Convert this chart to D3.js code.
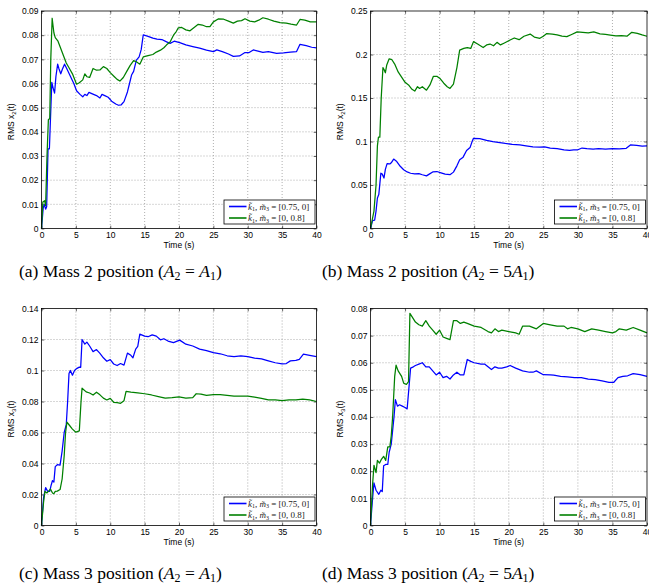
<!DOCTYPE html>
<html><head><meta charset="utf-8">
<script src="https://cdn.jsdelivr.net/npm/d3@7"></script>
<style>body{margin:0;background:#fff}svg{display:block}</style>
</head><body>
<svg id="c" width="649" height="586"></svg>
<script>
// ---------- DATA ----------
const xTicks = [0,5,10,15,20,25,30,35,40];
const xTickLabels = ["0","5","10","15","20","25","30","35","40"];

const yTicksA = [0,0.01,0.02,0.03,0.04,0.05,0.06,0.07,0.08,0.09];
const yLabelsA = ["0","0.01","0.02","0.03","0.04","0.05","0.06","0.07","0.08","0.09"];
const yTicksB = [0,0.05,0.1,0.15,0.2,0.25];
const yLabelsB = ["0","0.05","0.1","0.15","0.2","0.25"];
const yTicksC = [0,0.02,0.04,0.06,0.08,0.1,0.12,0.14];
const yLabelsC = ["0","0.02","0.04","0.06","0.08","0.1","0.12","0.14"];
const yTicksD = [0,0.01,0.02,0.03,0.04,0.05,0.06,0.07,0.08];
const yLabelsD = ["0","0.01","0.02","0.03","0.04","0.05","0.06","0.07","0.08"];

// (a) Mass 2, A2 = A1
const blueA = [[0,0],[0.25,0.0085],[0.4,0.01],[0.6,0.008],[0.75,0.009],[0.95,0.033],[1.15,0.033],[1.3,0.045],[1.5,0.0605],[1.7,0.058],[1.9,0.056],[2.1,0.063],[2.35,0.068],[2.55,0.066],[2.8,0.064],[3.05,0.066],[3.35,0.068],[3.7,0.066],[4.2,0.063],[4.7,0.06],[5.1,0.057],[5.6,0.0555],[6.0,0.0545],[6.3,0.0555],[6.6,0.055],[6.9,0.0563],[7.4,0.0557],[8.0,0.055],[8.5,0.054],[8.8,0.0555],[9.2,0.055],[9.7,0.0543],[10.2,0.0527],[10.8,0.0515],[11.2,0.051],[11.6,0.0512],[12.0,0.0525],[12.5,0.0565],[12.8,0.06],[13.1,0.0635],[13.4,0.065],[13.8,0.0697],[14.2,0.071],[14.5,0.074],[14.8,0.0801],[15.5,0.0795],[16.2,0.0788],[16.8,0.0784],[17.5,0.0782],[18.2,0.0772],[18.7,0.0766],[19.3,0.0775],[20.1,0.0769],[21,0.076],[22,0.0753],[23,0.0746],[24,0.0738],[25,0.0732],[25.5,0.0739],[26.3,0.0732],[27.2,0.0722],[27.9,0.0712],[28.8,0.0714],[29.6,0.0728],[30.2,0.0728],[30.8,0.0739],[31.5,0.0734],[32.2,0.0729],[33,0.0732],[34.2,0.0725],[35.2,0.0727],[36.2,0.073],[37.1,0.0732],[37.6,0.0762],[38.5,0.0757],[39.3,0.075],[40,0.0747]];
const greenA = [[0,0],[0.2,0.011],[0.45,0.0115],[0.6,0.0095],[0.8,0.03],[1.0,0.045],[1.2,0.0455],[1.35,0.07],[1.55,0.087],[1.8,0.081],[2.0,0.079],[2.4,0.0775],[2.8,0.0745],[3.2,0.0715],[3.6,0.0685],[4.0,0.0665],[4.5,0.064],[5.1,0.0597],[5.5,0.0603],[6.0,0.0615],[6.3,0.064],[6.6,0.0628],[7.0,0.0625],[7.5,0.0662],[8.0,0.0655],[8.5,0.0656],[9.0,0.067],[9.5,0.0662],[10.0,0.0645],[10.6,0.0628],[11.0,0.0617],[11.4,0.061],[11.9,0.0625],[12.4,0.065],[12.9,0.0675],[13.4,0.0695],[13.8,0.069],[14.3,0.068],[14.8,0.071],[15.5,0.0715],[16.2,0.072],[16.7,0.073],[17.3,0.0738],[17.8,0.0748],[18.2,0.076],[18.7,0.0772],[19.2,0.08],[19.6,0.0815],[19.9,0.083],[20.4,0.0832],[21.0,0.0822],[21.6,0.0818],[22.2,0.0832],[22.8,0.0845],[23.4,0.0842],[24.0,0.0835],[24.5,0.0835],[25.0,0.0855],[25.7,0.0867],[26.5,0.0866],[27.2,0.0858],[27.9,0.085],[28.5,0.0858],[29.1,0.086],[29.6,0.0868],[30.3,0.0858],[31.0,0.0855],[31.6,0.0862],[32.2,0.0872],[33,0.0866],[33.8,0.0858],[34.7,0.0852],[35.6,0.085],[36.3,0.0846],[37.1,0.0842],[37.6,0.0865],[38.3,0.0862],[39.1,0.0855],[40,0.0855]];

// (b) Mass 2, A2 = 5A1
const blueB = [[0,0],[0.3,0.009],[0.6,0.0095],[0.8,0.02],[1.0,0.035],[1.2,0.039],[1.5,0.0636],[1.7,0.0625],[1.95,0.058],[2.15,0.068],[2.4,0.0745],[2.8,0.0742],[3.0,0.0755],[3.35,0.0798],[3.8,0.077],[4.3,0.0715],[4.8,0.0675],[5.3,0.065],[5.8,0.0635],[6.4,0.0628],[7.0,0.063],[7.5,0.0618],[8.1,0.0605],[8.5,0.0625],[9.0,0.065],[9.6,0.0655],[10.2,0.064],[10.8,0.0625],[11.5,0.0618],[12.0,0.0648],[12.5,0.072],[12.9,0.079],[13.4,0.082],[13.9,0.0896],[14.4,0.093],[14.7,0.1],[14.9,0.1037],[15.8,0.1032],[16.8,0.1012],[17.7,0.0998],[18.7,0.0988],[19.5,0.0978],[20.5,0.0968],[21.6,0.096],[22.5,0.095],[23.5,0.0938],[24.5,0.0935],[25.2,0.0938],[26.0,0.0923],[27.0,0.0918],[28.0,0.0905],[28.8,0.0897],[29.4,0.0903],[30.0,0.0905],[30.6,0.0925],[31.3,0.0918],[32.2,0.0912],[33.0,0.0918],[34.0,0.0912],[35.0,0.0918],[36.0,0.0915],[37.0,0.0922],[37.6,0.096],[38.5,0.0955],[39.3,0.0948],[40,0.095]];
const greenB = [[0,0],[0.5,0.02],[0.8,0.05],[1.0,0.095],[1.15,0.105],[1.35,0.105],[1.55,0.15],[1.8,0.185],[2.0,0.182],[2.15,0.179],[2.35,0.188],[2.7,0.195],[3.1,0.194],[3.5,0.189],[4.0,0.18],[4.5,0.174],[5.0,0.168],[5.5,0.165],[6.0,0.16],[6.4,0.158],[6.8,0.163],[7.1,0.161],[7.5,0.163],[8.1,0.159],[8.6,0.165],[9.1,0.175],[9.6,0.175],[10.1,0.172],[10.6,0.167],[11.1,0.163],[11.5,0.161],[12.0,0.166],[12.5,0.185],[12.9,0.205],[13.5,0.207],[14.0,0.208],[14.5,0.207],[14.9,0.2148],[15.5,0.212],[16.3,0.208],[16.8,0.211],[17.3,0.212],[17.8,0.21],[18.3,0.214],[18.8,0.211],[19.3,0.213],[20.2,0.2167],[20.8,0.219],[21.5,0.217],[22.2,0.221],[23.1,0.2235],[23.7,0.22],[24.5,0.2186],[25.0,0.221],[25.5,0.224],[26.3,0.2235],[27.0,0.2225],[27.7,0.2212],[28.4,0.2205],[29.1,0.223],[29.9,0.226],[30.7,0.2255],[31.5,0.2248],[32.3,0.226],[33.2,0.2238],[34.0,0.223],[34.7,0.2224],[35.5,0.2215],[36.3,0.2218],[37.1,0.221],[37.8,0.2255],[38.6,0.2242],[39.3,0.2225],[40,0.221]];

// (c) Mass 3, A2 = A1
const blueC = [[0,0],[0.3,0.018],[0.6,0.0245],[0.9,0.022],[1.2,0.022],[1.4,0.026],[1.6,0.029],[1.8,0.028],[2.0,0.038],[2.3,0.0392],[2.7,0.039],[3.0,0.048],[3.3,0.06],[3.6,0.065],[3.8,0.08],[4.0,0.098],[4.2,0.1],[4.5,0.097],[4.8,0.1],[5.1,0.1012],[5.5,0.1022],[5.7,0.102],[5.9,0.12],[6.3,0.117],[6.6,0.1183],[7.0,0.1158],[7.5,0.1122],[8.0,0.1135],[8.5,0.111],[9.0,0.1082],[9.5,0.106],[10.0,0.107],[10.5,0.1042],[11.0,0.1032],[11.5,0.1045],[12.0,0.1035],[12.5,0.1112],[13.0,0.1098],[13.3,0.1082],[13.7,0.1138],[14.0,0.1155],[14.3,0.1235],[15.0,0.1222],[15.5,0.1218],[16.1,0.123],[16.7,0.1222],[17.3,0.1198],[17.8,0.1205],[18.4,0.119],[19.2,0.118],[20.1,0.1196],[21,0.117],[22,0.1158],[23,0.1138],[24,0.1128],[25,0.1115],[26,0.1108],[27,0.1095],[28,0.109],[29,0.1095],[30,0.109],[31,0.108],[32,0.1075],[33,0.1062],[34,0.105],[35,0.1042],[35.6,0.1045],[36.2,0.1062],[37,0.1065],[37.5,0.1072],[38.1,0.1105],[39,0.1098],[40,0.109]];
const greenC = [[0,0],[0.3,0.015],[0.5,0.022],[0.8,0.021],[1.0,0.022],[1.3,0.0235],[1.6,0.021],[1.8,0.0205],[2.0,0.022],[2.3,0.0222],[2.7,0.0232],[3.0,0.03],[3.3,0.045],[3.5,0.06],[3.7,0.0667],[4.0,0.065],[4.5,0.0622],[5.0,0.0602],[5.5,0.061],[5.75,0.08],[5.9,0.0886],[6.5,0.0862],[7.0,0.0855],[7.5,0.0842],[8.0,0.086],[8.5,0.0843],[9.0,0.0822],[9.5,0.081],[10.0,0.082],[10.5,0.0795],[11.0,0.0792],[11.5,0.0788],[12.0,0.0805],[12.3,0.0865],[13.0,0.086],[14.0,0.0855],[15.0,0.085],[16.0,0.0842],[17.0,0.0832],[18.0,0.0822],[19.0,0.0825],[20.0,0.083],[21.0,0.0822],[22.0,0.0825],[22.5,0.085],[23.2,0.0848],[24.0,0.084],[25.0,0.0845],[26.0,0.0845],[27.0,0.084],[28.0,0.0835],[29.0,0.0835],[30.0,0.0835],[31.0,0.0828],[32.0,0.082],[33.0,0.081],[34.0,0.081],[35.0,0.0805],[36.0,0.081],[37.0,0.081],[38.0,0.0815],[39.0,0.081],[40.0,0.08]];

// (d) Mass 3, A2 = 5A1
const blueD = [[0,0],[0.3,0.01],[0.5,0.0157],[0.8,0.013],[1.2,0.0115],[1.5,0.013],[1.7,0.0125],[1.9,0.022],[2.2,0.0225],[2.5,0.0225],[2.7,0.027],[3.0,0.03],[3.2,0.035],[3.4,0.04],[3.6,0.0464],[3.9,0.044],[4.2,0.0445],[4.6,0.044],[5.0,0.0435],[5.3,0.043],[5.6,0.052],[5.8,0.058],[6.2,0.0585],[6.5,0.059],[7.0,0.0595],[7.5,0.06],[8.0,0.0585],[8.5,0.0585],[9.0,0.057],[9.5,0.0555],[10.0,0.0565],[10.5,0.0545],[11.0,0.055],[11.5,0.054],[12.0,0.0555],[12.5,0.0565],[13.0,0.0555],[13.5,0.0555],[14.0,0.0612],[14.5,0.0605],[15.0,0.06],[16.0,0.0595],[16.5,0.0595],[17.0,0.0585],[17.5,0.0575],[18.0,0.0585],[18.5,0.058],[19.0,0.058],[19.7,0.0585],[20.2,0.059],[21.0,0.058],[22.0,0.057],[23.0,0.0565],[23.5,0.0565],[24.0,0.057],[25.0,0.0556],[26.0,0.0555],[26.5,0.0554],[27.5,0.055],[28.5,0.0548],[29.5,0.0545],[30.5,0.0545],[31.5,0.054],[32.5,0.0538],[33.5,0.0533],[34.5,0.0528],[35.2,0.0528],[35.8,0.0545],[36.5,0.055],[37.2,0.0552],[38.0,0.056],[39.0,0.0556],[40,0.055]];
const greenD = [[0,0],[0.3,0.015],[0.5,0.0222],[0.8,0.0195],[1.0,0.024],[1.3,0.023],[1.6,0.0245],[1.9,0.0255],[2.2,0.024],[2.5,0.029],[2.8,0.029],[3.0,0.033],[3.2,0.04],[3.5,0.055],[3.7,0.0591],[4.0,0.057],[4.5,0.055],[4.8,0.0525],[5.2,0.052],[5.5,0.053],[5.7,0.0782],[6.0,0.077],[6.5,0.075],[7.0,0.074],[7.5,0.0735],[8.0,0.0755],[8.5,0.0735],[9.0,0.072],[9.5,0.0705],[10.0,0.072],[10.5,0.0695],[11.0,0.069],[11.5,0.0685],[12.0,0.0755],[12.5,0.0755],[13.0,0.0745],[13.5,0.075],[14.0,0.0745],[15.0,0.0735],[16.0,0.073],[17.0,0.0715],[17.5,0.071],[18.0,0.0725],[18.5,0.0715],[19.0,0.072],[20.0,0.0715],[21.0,0.071],[21.5,0.0705],[22.0,0.0735],[23.0,0.0735],[24.0,0.0725],[25.0,0.0745],[26.0,0.074],[27.0,0.0735],[28.0,0.0735],[28.5,0.0725],[29.0,0.073],[30.0,0.0725],[31.0,0.0715],[32.0,0.0725],[33.0,0.072],[34.0,0.0715],[35.0,0.071],[35.5,0.0715],[36.0,0.0725],[37.0,0.072],[38.0,0.073],[39.0,0.072],[40,0.071]];

const legendValues = ["[0.75, 0]", "[0, 0.8]"];
const seriesColors = ["#0000ff", "#008000"];

// ---------- LAYOUT ----------
const panels = [
  {x0:41.5, x1:316.5, y0:11, y1:228.5, yMax:0.09, yTicks:yTicksA, yLabels:yLabelsA, sub:"2", series:[blueA, greenA],
   cap:{x:19, y:277, tag:"(a)", mass:"2", five:false}},
  {x0:370.5, x1:647, y0:11, y1:228.5, yMax:0.25, yTicks:yTicksB, yLabels:yLabelsB, sub:"2", series:[blueB, greenB],
   cap:{x:322, y:277, tag:"(b)", mass:"2", five:true}},
  {x0:41.5, x1:316.5, y0:308.5, y1:525.5, yMax:0.14, yTicks:yTicksC, yLabels:yLabelsC, sub:"3", series:[blueC, greenC],
   cap:{x:19, y:579, tag:"(c)", mass:"3", five:false}},
  {x0:370.5, x1:647, y0:308.5, y1:525.5, yMax:0.08, yTicks:yTicksD, yLabels:yLabelsD, sub:"3", series:[blueD, greenD],
   cap:{x:322, y:579, tag:"(d)", mass:"3", five:true}}
];

const svg = d3.select("#c");
const sans = "'Liberation Sans', Arial, Helvetica, sans-serif";
const serif = "'Liberation Serif', 'Times New Roman', serif";

panels.forEach(p => {
  const x = d3.scaleLinear().domain([0,40]).range([p.x0, p.x1]);
  const y = d3.scaleLinear().domain([0,p.yMax]).range([p.y1, p.y0]);
  const g = svg.append("g");

  // grid
  g.append("g").selectAll("line").data(xTicks.slice(1,-1)).join("line")
    .attr("x1", d=>x(d)).attr("x2", d=>x(d)).attr("y1", p.y0).attr("y2", p.y1)
    .attr("stroke","#9a9a9a").attr("stroke-width",0.8).attr("stroke-dasharray","1,2");
  g.append("g").selectAll("line").data(p.yTicks.slice(1,-1)).join("line")
    .attr("y1", d=>y(d)).attr("y2", d=>y(d)).attr("x1", p.x0).attr("x2", p.x1)
    .attr("stroke","#9a9a9a").attr("stroke-width",0.8).attr("stroke-dasharray","1,2");

  // axes (inward ticks, MATLAB style)
  const tl = 2.8;
  const xb = d3.axisBottom(x).tickValues(xTicks).tickSizeInner(-tl).tickSizeOuter(0).tickPadding(3.5)
    .tickFormat((d,i)=>xTickLabels[i]);
  g.append("g").attr("transform",`translate(0,${p.y1})`).call(xb);
  const xt = d3.axisTop(x).tickValues(xTicks).tickSizeInner(-tl).tickSizeOuter(0).tickFormat("");
  g.append("g").attr("transform",`translate(0,${p.y0})`).call(xt);
  const yl = d3.axisLeft(y).tickValues(p.yTicks).tickSizeInner(-tl).tickSizeOuter(0).tickPadding(3)
    .tickFormat((d,i)=>p.yLabels[i]);
  g.append("g").attr("transform",`translate(${p.x0},0)`).call(yl);
  const yr = d3.axisRight(y).tickValues(p.yTicks).tickSizeInner(-tl).tickSizeOuter(0).tickFormat("");
  g.append("g").attr("transform",`translate(${p.x1},0)`).call(yr);
  g.selectAll(".domain").remove();
  g.selectAll(".tick line").attr("stroke","#000").attr("stroke-width",0.6);
  g.selectAll(".tick text").attr("font-family", sans).attr("font-size", 8.5).attr("fill","#000");

  // lines
  const line = d3.line().x(d=>x(d[0])).y(d=>y(d[1]));
  p.series.forEach((s,i)=>{
    g.append("path").datum(s).attr("d", line).attr("fill","none")
      .attr("stroke", seriesColors[i]).attr("stroke-width",1.25).attr("stroke-linejoin","round");
  });

  // box
  g.append("rect").attr("x",p.x0).attr("y",p.y0).attr("width",p.x1-p.x0).attr("height",p.y1-p.y0)
    .attr("fill","none").attr("stroke","#000").attr("stroke-width",0.8);

  // x label
  g.append("text").attr("x",(p.x0+p.x1)/2).attr("y",p.y1+19).attr("text-anchor","middle")
    .attr("font-family",sans).attr("font-size",8.5).text("Time (s)");

  // y label
  const ylab = g.append("text").attr("transform",`translate(${p.x0-28},${(p.y0+p.y1)/2+2}) rotate(-90)`)
    .attr("text-anchor","middle").attr("font-family",sans).attr("font-size",8.5);
  ylab.append("tspan").text("RMS x");
  ylab.append("tspan").attr("font-size",6).attr("dy",2.5).text(p.sub);
  ylab.append("tspan").attr("dy",-2.5).text("(t)");

  // legend
  const lw = 91, lh = 24;
  const lx = p.x1 - 1.5 - lw, ly = p.y1 - 4.5 - lh;
  const lg = g.append("g");
  lg.append("rect").attr("x",lx).attr("y",ly).attr("width",lw).attr("height",lh)
    .attr("fill","#fff").attr("stroke","#000").attr("stroke-width",0.8);
  legendValues.forEach((v,i)=>{
    const yy = ly + 6.5 + i*11.5;
    lg.append("line").attr("x1",lx+5).attr("x2",lx+22.5).attr("y1",yy).attr("y2",yy)
      .attr("stroke",seriesColors[i]).attr("stroke-width",1.6);
    const t = lg.append("text").attr("x",lx+24).attr("y",yy+3).attr("font-family",serif)
      .attr("font-size",9).attr("fill","#222");
    t.append("tspan").attr("font-style","italic").text("k\u0303");
    t.append("tspan").attr("font-size",6).attr("dy",1.8).text("1");
    t.append("tspan").attr("dy",-1.8).text(", ");
    t.append("tspan").attr("font-style","italic").text("m\u0303");
    t.append("tspan").attr("font-size",6).attr("dy",1.8).text("3");
    t.append("tspan").attr("dy",-1.8).text(" = " + v);
  });

  // caption
  const c = svg.append("text").attr("x",p.cap.x).attr("y",p.cap.y).attr("font-family",serif)
    .attr("font-size",17.5).attr("fill","#000");
  c.append("tspan").text(`${p.cap.tag} Mass ${p.cap.mass} position (`);
  c.append("tspan").attr("font-style","italic").text("A");
  c.append("tspan").attr("font-size",12).attr("dy",3).text("2");
  c.append("tspan").attr("dy",-3).text(" = " + (p.cap.five ? "5" : ""));
  c.append("tspan").attr("font-style","italic").text("A");
  c.append("tspan").attr("font-size",12).attr("dy",3).text("1");
  c.append("tspan").attr("dy",-3).text(")");
});
</script>
</body></html>
